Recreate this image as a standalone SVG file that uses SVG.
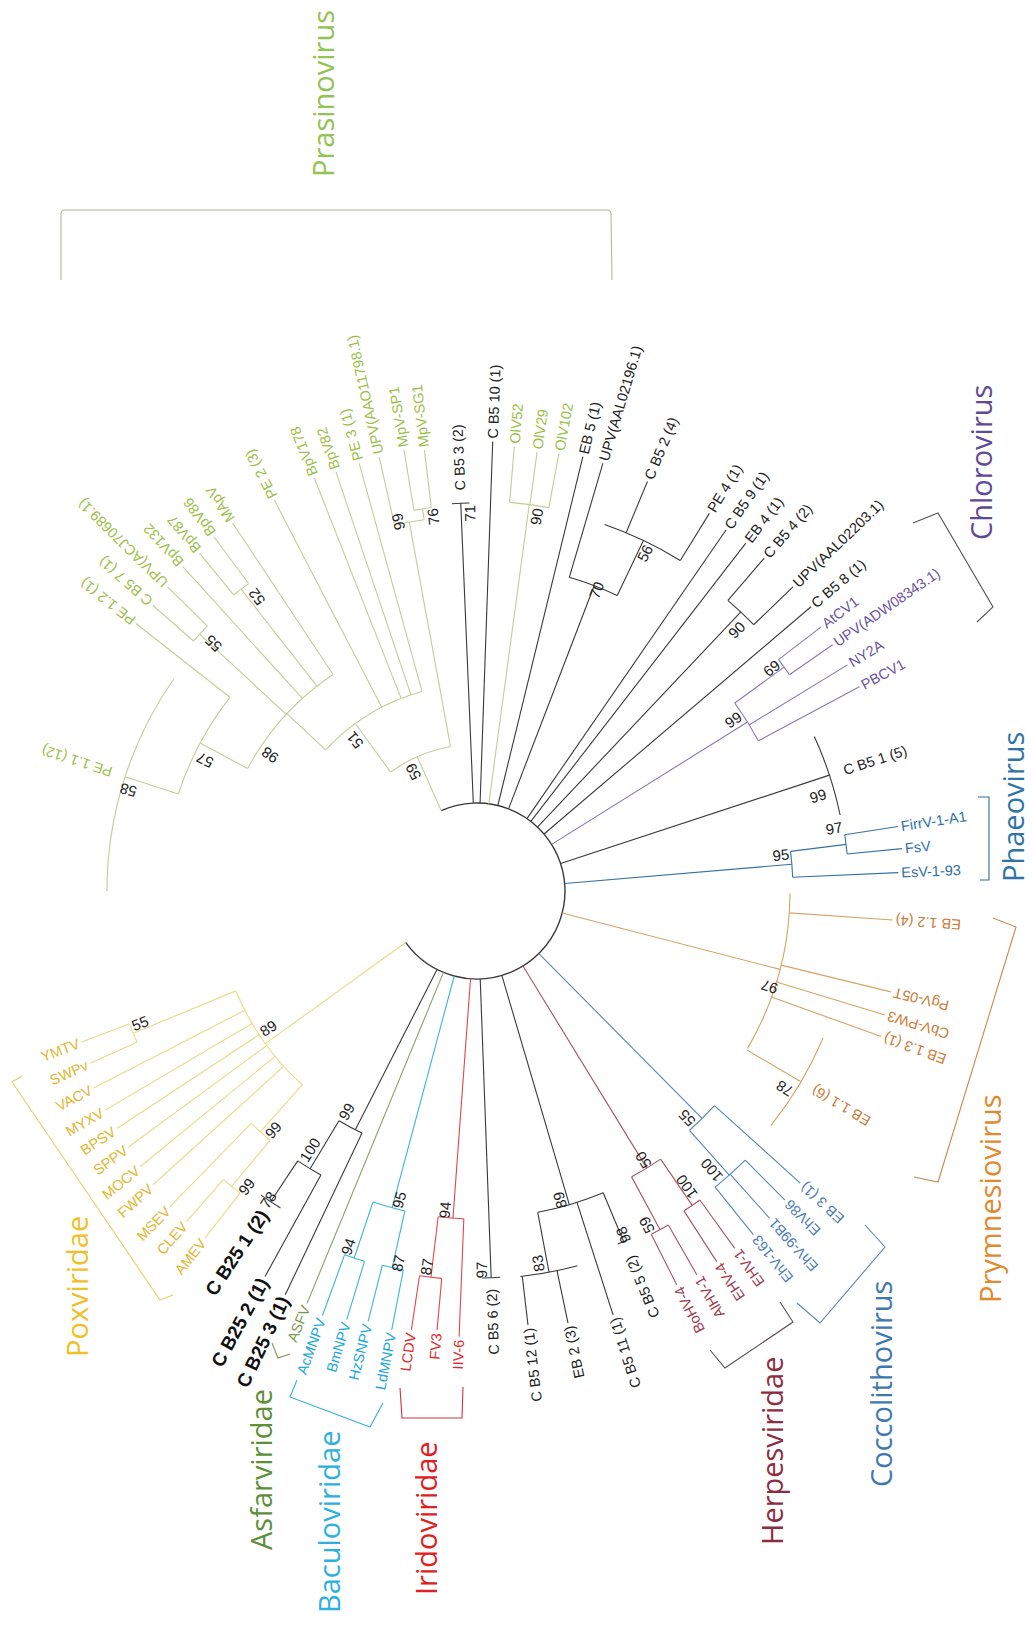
<svg xmlns="http://www.w3.org/2000/svg" width="1034" height="1626" viewBox="0 0 1034 1626">
<style>
line,circle,path{fill:none;stroke-width:1.1}
.k{stroke:#3a3a3a}.g{stroke:#c3cd98}.p{stroke:#8b76b6}.b{stroke:#3572a6}.o{stroke:#d6a266}
.c{stroke:#5584b8}.h{stroke:#a55462}.r{stroke:#e0484a}.cy{stroke:#3cb4dc}.ol{stroke:#8aa066}.y{stroke:#e6dc86}
text{font-family:"Liberation Sans",Arial,sans-serif;font-size:14.5px}
.tk{fill:#222}.tg{fill:#9bbf48}.tp{fill:#6a52a3}.tb{fill:#2c6fa8}.to{fill:#cc7a36}.tc{fill:#4d7cb6}
.th{fill:#a03a4c}.tr{fill:#e02a2a}.tcy{fill:#22a8dc}.tol{fill:#7b9a50}.ty{fill:#e0b730}
.bold{font-size:19px;font-weight:bold;fill:#111}
.f{text-anchor:end}
.bs{font-size:15px;fill:#222;text-anchor:middle}
.big{font-family:"Open Sans","Liberation Sans",sans-serif;font-size:29px}
</style>
<rect width="1034" height="1626" fill="#fff"/>

<g id="tree" transform="translate(477 891)">
<g id="connectors">
<circle class="k" r="88" transform="rotate(-114)" pathLength="360" stroke-dasharray="258.2 360" style="stroke-width:1.4"/>
<!-- green -->
<line class="g" x1="88" x2="147" transform="rotate(-114)"/>
<circle class="g" r="147" transform="rotate(-126)" pathLength="360" stroke-dasharray="25.6 360"/>
<line class="g" x1="147" x2="207" transform="rotate(-126)"/>
<circle class="g" r="207" transform="rotate(-137)" pathLength="360" stroke-dasharray="31.6 360"/>
<line class="g" x1="207" x2="260" transform="rotate(-137)"/>
<circle class="g" r="260" transform="rotate(-151.9)" pathLength="360" stroke-dasharray="28.3 360"/>
<line class="g" x1="260" x2="314" transform="rotate(-151.9)"/>
<circle class="g" r="314" transform="rotate(-162)" pathLength="360" stroke-dasharray="20.1 360"/>
<line class="g" x1="260" x2="378" transform="rotate(-137.2)"/>
<circle class="g" r="378" transform="rotate(-138.6)" pathLength="360" stroke-dasharray="3.1 360"/>
<line class="g" x1="260" x2="383" transform="rotate(-128)"/>
<circle class="g" r="383" transform="rotate(-129.4)" pathLength="360" stroke-dasharray="2.8 360"/>
<line class="g" x1="147" x2="375" transform="rotate(-100.4)"/>
<circle class="g" r="375" transform="rotate(-102.7)" pathLength="360" stroke-dasharray="4.6 360"/>
<line class="g" x1="375" x2="386" transform="rotate(-98.1)"/>
<circle class="g" r="386" transform="rotate(-99.4)" pathLength="360" stroke-dasharray="2.6 360"/>
<line class="g" x1="88" x2="390" transform="rotate(-82.3)"/>
<circle class="g" r="390" transform="rotate(-85.2)" pathLength="360" stroke-dasharray="5.8 360"/>
<!-- black upper -->
<line class="k" x1="88" x2="327" transform="rotate(-69)"/>
<circle class="k" r="327" transform="rotate(-73.6)" pathLength="360" stroke-dasharray="9 360"/>
<line class="k" x1="327" x2="388" transform="rotate(-64.6)"/>
<circle class="k" r="388" transform="rotate(-70.8)" pathLength="360" stroke-dasharray="12.4 360"/>
<line class="k" x1="88" x2="384" transform="rotate(-46.6)"/>
<circle class="k" r="384" transform="rotate(-49.2)" pathLength="360" stroke-dasharray="5.3 360"/>
<!-- purple -->
<line class="p" x1="88" x2="319" transform="rotate(-32)"/>
<circle class="p" r="319" transform="rotate(-36.1)" pathLength="360" stroke-dasharray="8 360"/>
<line class="p" x1="319" x2="380" transform="rotate(-36.1)"/>
<circle class="p" r="380" transform="rotate(-37.5)" pathLength="360" stroke-dasharray="2.8 360"/>
<!-- blue -->
<line class="b" x1="88" x2="316" transform="rotate(-4.85)"/>
<circle class="b" r="316" transform="rotate(-7.2)" pathLength="360" stroke-dasharray="4.7 360"/>
<line class="b" x1="316" x2="372" transform="rotate(-7.2)"/>
<circle class="b" r="372" transform="rotate(-8.7)" pathLength="360" stroke-dasharray="3 360"/>
<!-- orange -->
<line class="o" x1="88" x2="313" transform="rotate(14.5)"/>
<circle class="o" r="313" transform="rotate(0.4)" pathLength="360" stroke-dasharray="29.8 360"/>
<!-- cocco -->
<line class="c" x1="88" x2="320" transform="rotate(45.3)"/>
<circle class="c" r="320" transform="rotate(42.1)" pathLength="360" stroke-dasharray="6.3 360"/>
<line class="c" x1="320" x2="380" transform="rotate(48.4)"/>
<circle class="c" r="380" transform="rotate(45.1)" pathLength="360" stroke-dasharray="6.1 360"/>
<!-- herpes -->
<line class="h" x1="88" x2="325" transform="rotate(58.5)"/>
<circle class="h" r="325" transform="rotate(55.6)" pathLength="360" stroke-dasharray="6 360"/>
<line class="h" x1="325" x2="381" transform="rotate(55.6)"/>
<circle class="h" r="381" transform="rotate(54.2)" pathLength="360" stroke-dasharray="2.9 360"/>
<line class="h" x1="325" x2="385" transform="rotate(61.6)"/>
<circle class="h" r="385" transform="rotate(60.2)" pathLength="360" stroke-dasharray="2.9 360"/>
<!-- black lower -->
<line class="k" x1="88" x2="327" transform="rotate(73.6)"/>
<circle class="k" r="327" transform="rotate(67.3)" pathLength="360" stroke-dasharray="12 360"/>
<line class="k" x1="327" x2="388" transform="rotate(79.3)"/>
<circle class="k" r="388" transform="rotate(75)" pathLength="360" stroke-dasharray="8.6 360"/>
<!-- red -->
<line class="r" x1="88" x2="328" transform="rotate(94.2)"/>
<circle class="r" r="328" transform="rotate(92.3)" pathLength="360" stroke-dasharray="4.5 360"/>
<line class="r" x1="328" x2="389" transform="rotate(96.8)"/>
<circle class="r" r="389" transform="rotate(95.2)" pathLength="360" stroke-dasharray="3.3 360"/>
<!-- cyan -->
<line class="cy" x1="88" x2="328" transform="rotate(105)"/>
<circle class="cy" r="328" transform="rotate(102.7)" pathLength="360" stroke-dasharray="5.8 360"/>
<line class="cy" x1="328" x2="386" transform="rotate(102.7)"/>
<circle class="cy" r="386" transform="rotate(101)" pathLength="360" stroke-dasharray="3.2 360"/>
<line class="cy" x1="328" x2="387" transform="rotate(108.5)"/>
<circle class="cy" r="387" transform="rotate(106.9)" pathLength="360" stroke-dasharray="3.1 360"/>
<!-- black bold clade -->
<line class="k" x1="88" x2="268" transform="rotate(117)"/>
<circle class="k" r="268" transform="rotate(115.4)" pathLength="360" stroke-dasharray="5.6 360"/>
<line class="k" x1="268" x2="324" transform="rotate(121)"/>
<circle class="k" r="324" transform="rotate(118.8)" pathLength="360" stroke-dasharray="4.8 360"/>
<!-- yellow -->
<line class="y" x1="88" x2="261" transform="rotate(144.2)"/>
<circle class="y" r="261" transform="rotate(132)" pathLength="360" stroke-dasharray="25.5 360"/>
<line class="y" x1="261" x2="324" transform="rotate(132)"/>
<circle class="y" r="324" transform="rotate(129.7)" pathLength="360" stroke-dasharray="4.5 360"/>
<line class="y" x1="324" x2="384" transform="rotate(129.7)"/>
<circle class="y" r="384" transform="rotate(128.1)" pathLength="360" stroke-dasharray="3.2 360"/>
<line class="y" x1="261" x2="372" transform="rotate(157.5)"/>
<circle class="y" r="372" transform="rotate(156)" pathLength="360" stroke-dasharray="3.1 360"/>
</g>

<!-- leaves upper half -->
<g id="PE1-1" transform="rotate(-162)"><line class="g" x1="314" x2="370"/><circle class="g" r="370" transform="rotate(-18)" pathLength="360" stroke-dasharray="35 360"/><text class="tg" x="384" dy=".35em">PE 1.1 (12)</text></g>
<g id="PE1-2" transform="rotate(-141.9)"><line class="g" x1="314" x2="433.5"/><text class="tg" x="436.5" dy=".35em">PE 1.2 (1)</text></g>
<g id="CB5-7" transform="rotate(-138.6)"><line class="g" x1="378" x2="432.4"/><text class="tg" x="435.4" dy=".35em">C B5 7 (1)</text></g>
<g id="UPV-ACJ" transform="rotate(-135.5)"><line class="g" x1="378" x2="433.9"/><text class="tg" x="436.9" dy=".35em">UPV(ACJ70689.1)</text></g>
<g id="BpV132" transform="rotate(-132.2)"><line class="g" x1="260" x2="438"/><text class="tg" x="441" dy=".35em">BpV132</text></g>
<g id="BpV87" transform="rotate(-129.4)"><line class="g" x1="383" x2="437"/><text class="tg" x="440" dy=".35em">BpV87</text></g>
<g id="BpV86" transform="rotate(-126.6)"><line class="g" x1="383" x2="441"/><text class="tg" x="444" dy=".35em">BpV86</text></g>
<g id="MApV" transform="rotate(-123.6)"><line class="g" x1="260" x2="441.5"/><text class="tg" x="444.5" dy=".35em">MApV</text></g>
<g id="PE2" transform="rotate(-117.4)"><line class="g" x1="207" x2="440"/><text class="tg" x="443" dy=".35em">PE 2 (3)</text></g>
<g id="BpV178" transform="rotate(-111.5)"><line class="g" x1="207" x2="443.6"/><text class="tg" x="446.6" dy=".35em">BpV178</text></g>
<g id="BpV82" transform="rotate(-108.6)"><line class="g" x1="207" x2="442"/><text class="tg" x="445" dy=".35em">BpV82</text></g>
<g id="PE3" transform="rotate(-105.4)"><line class="g" x1="207" x2="443.6"/><text class="tg" x="446.6" dy=".35em">PE 3 (1)</text></g>
<g id="UPV-AAO" transform="rotate(-102.7)"><line class="g" x1="375" x2="445"/><text class="tg" x="448" dy=".35em">UPV(AAO11798.1)</text></g>
<g id="MpV-SP1" transform="rotate(-99.4)"><line class="g" x1="386" x2="447"/><text class="tg" x="450" dy=".35em">MpV-SP1</text></g>
<g id="MpV-SG1" transform="rotate(-96.8)"><line class="g" x1="386" x2="444"/><text class="tg" x="447" dy=".35em">MpV-SG1</text></g>
<g id="CB5-3" transform="rotate(-92.4)"><line class="k" x1="88" x2="388"/><circle class="k" r="388" transform="rotate(-1.3)" pathLength="360" stroke-dasharray="2.6 360"/><text class="tk" x="401" dy=".35em">C B5 3 (2)</text></g>
<g id="CB5-10" transform="rotate(-88)"><line class="k" x1="88" x2="449.6"/><text class="tk" x="452.6" dy=".35em">C B5 10 (1)</text></g>
<g id="OlV52" transform="rotate(-85.2)"><line class="g" x1="390" x2="446"/><text class="tg" x="449" dy=".35em">OlV52</text></g>
<g id="OlV29" transform="rotate(-82.2)"><line class="g" x1="390" x2="443"/><text class="tg" x="446" dy=".35em">OlV29</text></g>
<g id="OlV102" transform="rotate(-79.4)"><line class="g" x1="390" x2="445"/><text class="tg" x="448" dy=".35em">OlV102</text></g>
<g id="EB5" transform="rotate(-76.3)"><line class="k" x1="88" x2="447"/><text class="tk" x="450" dy=".35em">EB 5 (1)</text></g>
<g id="UPV-AAL02196" transform="rotate(-73.6)"><line class="k" x1="327" x2="445.8"/><text class="tk" x="448.8" dy=".35em">UPV(AAL02196.1)</text></g>
<g id="CB5-2" transform="rotate(-67.4)"><line class="k" x1="388" x2="443.5"/><text class="tk" x="446.5" dy=".35em">C B5 2 (4)</text></g>
<g id="PE4" transform="rotate(-58.4)"><line class="k" x1="388" x2="443.4"/><text class="tk" x="446.4" dy=".35em">PE 4 (1)</text></g>
<g id="CB5-9" transform="rotate(-55.4)"><line class="k" x1="88" x2="438.5"/><text class="tk" x="441.5" dy=".35em">C B5 9 (1)</text></g>
<g id="EB4" transform="rotate(-52.3)"><line class="k" x1="88" x2="439.6"/><text class="tk" x="442.6" dy=".35em">EB 4 (1)</text></g>
<g id="CB5-4" transform="rotate(-49.2)"><line class="k" x1="384" x2="439.6"/><text class="tk" x="442.6" dy=".35em">C B5 4 (2)</text></g>
<g id="UPV-AAL02203" transform="rotate(-43.9)"><line class="k" x1="384" x2="438.5"/><text class="tk" x="441.5" dy=".35em">UPV(AAL02203.1)</text></g>
<g id="CB5-8" transform="rotate(-40.4)"><line class="k" x1="88" x2="438.6"/><text class="tk" x="441.6" dy=".35em">C B5 8 (1)</text></g>
<g id="AtCV1" transform="rotate(-37.5)"><line class="p" x1="380" x2="433.8"/><text class="tp" x="436.8" dy=".35em">AtCV1</text></g>
<g id="UPV-ADW" transform="rotate(-34.7)"><line class="p" x1="380" x2="432.5"/><text class="tp" x="435.5" dy=".35em">UPV(ADW08343.1)</text></g>
<g id="NY2A" transform="rotate(-31.4)"><line class="p" x1="319" x2="434"/><text class="tp" x="437" dy=".35em">NY2A</text></g>
<g id="PBCV1" transform="rotate(-28.1)"><line class="p" x1="319" x2="433.5"/><text class="tp" x="436.5" dy=".35em">PBCV1</text></g>
<g id="CB5-1" transform="rotate(-18.2)"><line class="k" x1="88" x2="371"/><circle class="k" r="371" transform="rotate(-6.4)" pathLength="360" stroke-dasharray="12.8 360"/><text class="tk" x="386" dy=".35em">C B5 1 (5)</text></g>
<g id="FirrV" transform="rotate(-8.7)"><line class="b" x1="372" x2="426"/><text class="tb" x="429" dy=".35em">FirrV-1-A1</text></g>
<g id="FsV" transform="rotate(-5.7)"><line class="b" x1="372" x2="427"/><text class="tb" x="430" dy=".35em">FsV</text></g>
<g id="EsV" transform="rotate(-2.5)"><line class="b" x1="316" x2="421.7"/><text class="tb" x="424.7" dy=".35em">EsV-1-93</text></g>

<!-- leaves lower half (flipped labels) -->
<g id="EB1-2" transform="rotate(4)"><line class="o" x1="313" x2="416.7"/><text class="to f" transform="translate(419.7 0) rotate(180)" dy=".35em">EB 1.2 (4)</text></g>
<g id="PgV" transform="rotate(13.7)"><line class="o" x1="313" x2="426"/><text class="to f" transform="translate(429 0) rotate(180)" dy=".35em">PgV-05T</text></g>
<g id="CbV" transform="rotate(16.9)"><line class="o" x1="313" x2="426.4"/><text class="to f" transform="translate(429.4 0) rotate(180)" dy=".35em">CbV-PW3</text></g>
<g id="EB1-3" transform="rotate(19.8)"><line class="o" x1="313" x2="429.7"/><text class="to f" transform="translate(432.7 0) rotate(180)" dy=".35em">EB 1.3 (1)</text></g>
<g id="EB1-1" transform="rotate(30.5)"><line class="o" x1="313" x2="376"/><circle class="o" r="376" transform="rotate(-7.5)" pathLength="360" stroke-dasharray="15.6 360"/><text class="to f" transform="translate(390 0) rotate(180)" dy=".35em">EB 1.1 (6)</text></g>
<g id="EB3" transform="rotate(42.1)"><line class="c" x1="320" x2="435.6"/><text class="tc f" transform="translate(438.6 0) rotate(180)" dy=".35em">EB 3 (1)</text></g>
<g id="EhV86" transform="rotate(45.1)"><line class="c" x1="380" x2="436.3"/><text class="tc f" transform="translate(439.3 0) rotate(180)" dy=".35em">EhV86</text></g>
<g id="EhV-99B1" transform="rotate(48.2)"><line class="c" x1="380" x2="439"/><text class="tc f" transform="translate(442 0) rotate(180)" dy=".35em">EhV-99B1</text></g>
<g id="EhV-163" transform="rotate(51.2)"><line class="c" x1="380" x2="441"/><text class="tc f" transform="translate(444 0) rotate(180)" dy=".35em">EhV-163</text></g>
<g id="EHV-1" transform="rotate(54.2)"><line class="h" x1="381" x2="440.7"/><text class="th f" transform="translate(443.7 0) rotate(180)" dy=".35em">EHV-1</text></g>
<g id="EHV-4" transform="rotate(57.1)"><line class="h" x1="381" x2="441.4"/><text class="th f" transform="translate(444.4 0) rotate(180)" dy=".35em">EHV-4</text></g>
<g id="AlHV-1" transform="rotate(60.2)"><line class="h" x1="385" x2="442.4"/><text class="th f" transform="translate(445.4 0) rotate(180)" dy=".35em">AlHV-1</text></g>
<g id="BoHV-4" transform="rotate(63.1)"><line class="h" x1="385" x2="441.7"/><text class="th f" transform="translate(444.7 0) rotate(180)" dy=".35em">BoHV-4</text></g>
<g id="CB5-5" transform="rotate(67.3)"><line class="k" x1="327" x2="380"/><circle class="k" r="380" transform="rotate(-1)" pathLength="360" stroke-dasharray="2 360"/><text class="tk f" transform="translate(396 0) rotate(180)" dy=".35em">C B5 5 (2)</text></g>
<g id="CB5-11" transform="rotate(72.2)"><line class="k" x1="327" x2="445.4"/><text class="tk f" transform="translate(448.4 0) rotate(180)" dy=".35em">C B5 11 (1)</text></g>
<g id="EB2" transform="rotate(78.1)"><line class="k" x1="388" x2="441.5"/><text class="tk f" transform="translate(444.5 0) rotate(180)" dy=".35em">EB 2 (3)</text></g>
<g id="CB5-12" transform="rotate(83.3)"><line class="k" x1="388" x2="437"/><text class="tk f" transform="translate(440 0) rotate(180)" dy=".35em">C B5 12 (1)</text></g>
<g id="CB5-6" transform="rotate(87.9)"><line class="k" x1="88" x2="387"/><circle class="k" r="387" transform="rotate(-1.35)" pathLength="360" stroke-dasharray="2.7 360"/><text class="tk f" transform="translate(398 0) rotate(180)" dy=".35em">C B5 6 (2)</text></g>
<g id="IIV-6" transform="rotate(92.3)"><line class="r" x1="328" x2="446"/><text class="tr f" transform="translate(449 0) rotate(180)" dy=".35em">IIV-6</text></g>
<g id="FV3" transform="rotate(95.2)"><line class="r" x1="389" x2="441"/><text class="tr f" transform="translate(444 0) rotate(180)" dy=".35em">FV3</text></g>
<g id="LCDV" transform="rotate(98.5)"><line class="r" x1="389" x2="443.8"/><text class="tr f" transform="translate(446.8 0) rotate(180)" dy=".35em">LCDV</text></g>
<g id="LdMNPV" transform="rotate(101)"><line class="cy" x1="386" x2="447"/><text class="tcy f" transform="translate(450 0) rotate(180)" dy=".35em">LdMNPV</text></g>
<g id="HzSNPV" transform="rotate(104.2)"><line class="cy" x1="386" x2="444"/><text class="tcy f" transform="translate(447 0) rotate(180)" dy=".35em">HzSNPV</text></g>
<g id="BmNPV" transform="rotate(106.9)"><line class="cy" x1="387" x2="448"/><text class="tcy f" transform="translate(451 0) rotate(180)" dy=".35em">BmNPV</text></g>
<g id="AcMNPV" transform="rotate(110)"><line class="cy" x1="387" x2="452"/><text class="tcy f" transform="translate(455 0) rotate(180)" dy=".35em">AcMNPV</text></g>
<g id="ASFV" transform="rotate(112.4)"><line class="ol" x1="88" x2="446"/><text class="tol f" transform="translate(449 0) rotate(180)" dy=".35em">ASFV</text></g>
<g id="CB25-3" transform="rotate(115.4)"><line class="k" x1="268" x2="447"/><text class="bold f" transform="translate(450 0) rotate(180)" dy=".35em">C B25 3 (1)</text></g>
<g id="CB25-2" transform="rotate(118.8)"><line class="k" x1="324" x2="440"/><text class="bold f" transform="translate(443 0) rotate(180)" dy=".35em">C B25 2 (1)</text></g>
<g id="CB25-1" transform="rotate(123.6)"><line class="k" x1="324" x2="373"/><circle class="k" r="373" transform="rotate(-1.8)" pathLength="360" stroke-dasharray="3.6 360"/><text class="bold f" transform="translate(385 0) rotate(180)" dy=".35em">C B25 1 (2)</text></g>
<g id="AMEV" transform="rotate(128.1)"><line class="y" x1="384" x2="441"/><text class="ty f" transform="translate(444 0) rotate(180)" dy=".35em">AMEV</text></g>
<g id="CLEV" transform="rotate(131.3)"><line class="y" x1="384" x2="440"/><text class="ty f" transform="translate(443 0) rotate(180)" dy=".35em">CLEV</text></g>
<g id="MSEV" transform="rotate(134.2)"><line class="y" x1="324" x2="440.3"/><text class="ty f" transform="translate(443.3 0) rotate(180)" dy=".35em">MSEV</text></g>
<g id="FWPV" transform="rotate(137.8)"><line class="y" x1="261" x2="437.3"/><text class="ty f" transform="translate(440.3 0) rotate(180)" dy=".35em">FWPV</text></g>
<g id="MOCV" transform="rotate(140.7)"><line class="y" x1="261" x2="435.4"/><text class="ty f" transform="translate(438.4 0) rotate(180)" dy=".35em">MOCV</text></g>
<g id="SPPV" transform="rotate(143.7)"><line class="y" x1="261" x2="432.4"/><text class="ty f" transform="translate(435.4 0) rotate(180)" dy=".35em">SPPV</text></g>
<g id="BPSV" transform="rotate(146.6)"><line class="y" x1="261" x2="431.4"/><text class="ty f" transform="translate(434.4 0) rotate(180)" dy=".35em">BPSV</text></g>
<g id="MYXV" transform="rotate(149.5)"><line class="y" x1="261" x2="431.7"/><text class="ty f" transform="translate(434.7 0) rotate(180)" dy=".35em">MYXV</text></g>
<g id="VACV" transform="rotate(152.8)"><line class="y" x1="261" x2="431"/><text class="ty f" transform="translate(434 0) rotate(180)" dy=".35em">VACV</text></g>
<g id="SWPv" transform="rotate(156)"><line class="y" x1="372" x2="423.6"/><text class="ty f" transform="translate(426.6 0) rotate(180)" dy=".35em">SWPv</text></g>
<g id="YMTV" transform="rotate(159.1)"><line class="y" x1="372" x2="423"/><text class="ty f" transform="translate(426 0) rotate(180)" dy=".35em">YMTV</text></g>
</g>

<g id="bootstrap">
<text class="bs" transform="translate(128.3 790) rotate(-163.8)" dy=".35em">58</text>
<text class="bs" transform="translate(205 760) rotate(-154.3)" dy=".35em">57</text>
<text class="bs" transform="translate(270 755) rotate(-146.7)" dy=".35em">98</text>
<text class="bs" transform="translate(355 740) rotate(-128.9)" dy=".35em">51</text>
<text class="bs" transform="translate(413.3 771.7) rotate(-118.1)" dy=".35em">59</text>
<text class="bs" transform="translate(213.3 643.3) rotate(-136.8)" dy=".35em">55</text>
<text class="bs" transform="translate(256.7 596.7) rotate(-126.8)" dy=".35em">52</text>
<text class="bs" transform="translate(398.3 521.7) rotate(-102)" dy=".35em">99</text>
<text class="bs" transform="translate(433.3 516.7) rotate(-96.7)" dy=".35em">76</text>
<text class="bs" transform="translate(470 513.3) rotate(-91.1)" dy=".35em">71</text>
<text class="bs" transform="translate(536.7 516.7) rotate(-80.9)" dy=".35em">90</text>
<text class="bs" transform="translate(596.7 590) rotate(-68.3)" dy=".35em">70</text>
<text class="bs" transform="translate(645 553.3) rotate(-63.6)" dy=".35em">56</text>
<text class="bs" transform="translate(736.7 630) rotate(-45.1)" dy=".35em">90</text>
<text class="bs" transform="translate(771.7 668.3) rotate(-37.1)" dy=".35em">69</text>
<text class="bs" transform="translate(733.3 720) rotate(-33.7)" dy=".35em">99</text>
<text class="bs" transform="translate(818 796) rotate(-16.5)" dy=".35em">99</text>
<text class="bs" transform="translate(834 828.3) rotate(-10)" dy=".35em">97</text>
<text class="bs" transform="translate(781 855) rotate(-6.7)" dy=".35em">95</text>
<text class="bs" transform="translate(769.5 986.7) rotate(198.1)" dy=".35em">97</text>
<text class="bs" transform="translate(784.6 1088.3) rotate(212.7)" dy=".35em">78</text>
<text class="bs" transform="translate(687 1118) rotate(227.2)" dy=".35em">55</text>
<text class="bs" transform="translate(711.7 1170) rotate(229.9)" dy=".35em">100</text>
<text class="bs" transform="translate(686.7 1186.7) rotate(234.7)" dy=".35em">100</text>
<text class="bs" transform="translate(643.3 1160) rotate(238.3)" dy=".35em">50</text>
<text class="bs" transform="translate(646.7 1225) rotate(243.1)" dy=".35em">59</text>
<text class="bs" transform="translate(623.3 1235) rotate(246.9)" dy=".35em">98</text>
<text class="bs" transform="translate(560 1200) rotate(255)" dy=".35em">89</text>
<text class="bs" transform="translate(538.3 1263.3) rotate(260.6)" dy=".35em">83</text>
<text class="bs" transform="translate(481.7 1270) rotate(269.3)" dy=".35em">97</text>
<text class="bs" transform="translate(445 1210) rotate(275.7)" dy=".35em">94</text>
<text class="bs" transform="translate(426.7 1266.7) rotate(277.6)" dy=".35em">87</text>
<text class="bs" transform="translate(399.3 1200) rotate(284.1)" dy=".35em">95</text>
<text class="bs" transform="translate(348.3 1246.7) rotate(289.9)" dy=".35em">94</text>
<text class="bs" transform="translate(398.3 1263.3) rotate(281.9)" dy=".35em">87</text>
<text class="bs" transform="translate(346.7 1111.7) rotate(300.6)" dy=".35em">99</text>
<text class="bs" transform="translate(310 1150) rotate(302.8)" dy=".35em">100</text>
<text class="bs" transform="translate(268.3 1200) rotate(304)" dy=".35em">78</text>
<text class="bs" transform="translate(273.3 1130) rotate(310.4)" dy=".35em">99</text>
<text class="bs" transform="translate(246.7 1186.7) rotate(307.9)" dy=".35em">99</text>
<text class="bs" transform="translate(268.3 1028.3) rotate(326.7)" dy=".35em">89</text>
<text class="bs" transform="translate(140 1023.3) rotate(338.6)" dy=".35em">55</text>
</g>

<g id="clade-Prasinovirus"><path d="M61,280 L61,214 Q61,210 65,210 L607,210 Q611,210 611,214 L612,280" style="stroke:#b4b89c"/><text class="big" transform="translate(334 177) rotate(-90)" fill="#92c353">Prasinovirus</text></g>
<g id="clade-Chlorovirus"><path d="M913,523 L938,513 L993,607 L977,622" style="stroke:#555"/><text class="big" transform="translate(992 540) rotate(-90)" fill="#5e4a96">Chlorovirus</text></g>
<g id="clade-Phaeovirus"><path d="M978,797 L989,797 L989,880 L980,880" style="stroke:#2e6e9e"/><text class="big" transform="translate(1024 882) rotate(-90)" fill="#2e74a8">Phaeovirus</text></g>
<g id="clade-Prymnesiovirus"><path d="M993,918 L1016,927 L938,1182 L914,1177" style="stroke:#c98a50"/><text class="big" transform="translate(1001 1303) rotate(-90)" fill="#e08a30">Prymnesiovirus</text></g>
<g id="clade-Coccolithovirus"><path d="M865,1225 L885,1247 L820,1323 L797,1303" style="stroke:#5a86b8"/><text class="big" transform="translate(892 1487) rotate(-90)" fill="#3f78b0">Coccolithovirus</text></g>
<g id="clade-Herpesviridae"><path d="M780,1302 L793,1322 L725,1368 L710,1350" style="stroke:#5c4a52"/><text class="big" transform="translate(783 1545) rotate(-90)" fill="#8c2e3e">Herpesviridae</text></g>
<g id="clade-Iridoviridae"><path d="M400,1388 L402,1418 L462,1418 L463,1387" style="stroke:#d03040"/><text class="big" transform="translate(437 1595) rotate(-90)" fill="#e02020">Iridoviridae</text></g>
<g id="clade-Baculoviridae"><path d="M297,1380 L290,1397 L370,1427 L383,1403" style="stroke:#3ab0d8"/><text class="big" transform="translate(340 1613) rotate(-90)" fill="#2cb0e0">Baculoviridae</text></g>
<g id="clade-Asfarviridae"><path d="M272,1343 L278,1358 L290,1354" style="stroke:#7a9a4a"/><text class="big" transform="translate(272 1550) rotate(-90)" fill="#5e8f3a">Asfarviridae</text></g>
<g id="clade-Poxviridae"><path d="M22,1076 L12,1082 L160,1300 L173,1295" style="stroke:#e6d06a"/><text class="big" transform="translate(88 1357) rotate(-90)" fill="#f0c028">Poxviridae</text></g>
</svg>
